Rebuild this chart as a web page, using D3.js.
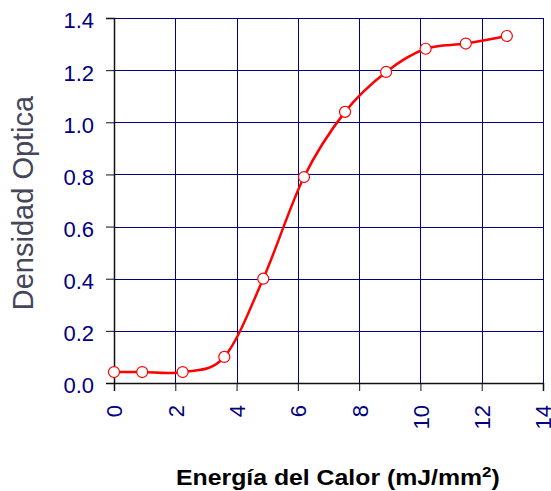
<!DOCTYPE html>
<html>
<head>
<meta charset="utf-8">
<script src="https://cdn.jsdelivr.net/npm/d3@7"></script>
<style>
  html, body { margin: 0; padding: 0; background: #fff; }
  svg { display: block; font-family: Arial, "Liberation Sans", sans-serif; }
</style>
</head>
<body>
<svg id="chart" width="551" height="491"></svg>
<script>
// energy (mJ/mm2) and optical density
const energia = [0, 0.92, 2.24, 3.6, 4.87, 6.2, 7.54, 8.88, 10.17, 11.48, 12.82];
const densidad = [0.042, 0.042, 0.042, 0.10, 0.40, 0.79, 1.04, 1.193, 1.282, 1.302, 1.331];
const xTicks = [0, 2, 4, 6, 8, 10, 12, 14];
const yTicks = [0, 0.2, 0.4, 0.6, 0.8, 1.0, 1.2, 1.4];

const NAVY = "#000080";

function drawChart() {
  const svg = d3.select("#chart");
  svg.selectAll("*").remove();

  const margin = { top: 18, left: 114, right: 8, bottom: 108 };
  const width = 551 - margin.left - margin.right;
  const height = 491 - margin.top - margin.bottom;

  const g = svg.append("g").attr("transform", `translate(${margin.left},${margin.top})`);

  const x = d3.scaleLinear().domain([0, 14]).range([0, width]);
  const y = d3.scaleLinear().domain([0, 1.4]).range([height, 0]);

  // grid
  g.append("g").selectAll("line")
    .data(xTicks.slice(1))
    .enter().append("line")
    .attr("x1", d => Math.round(x(d)) + 0.5).attr("x2", d => Math.round(x(d)) + 0.5)
    .attr("y1", 0).attr("y2", height)
    .attr("stroke", NAVY).attr("stroke-width", 1);

  g.append("g").selectAll("line")
    .data(yTicks.slice(1))
    .enter().append("line")
    .attr("x1", 0).attr("x2", width)
    .attr("y1", d => Math.round(y(d)) + 0.5).attr("y2", d => Math.round(y(d)) + 0.5)
    .attr("stroke", NAVY).attr("stroke-width", 1);

  // axes
  const xAxis = g.append("g")
    .attr("transform", `translate(0,${height})`)
    .call(d3.axisBottom(x).tickValues(xTicks).tickSize(8).tickFormat(d3.format("d")));
  xAxis.select(".domain").attr("stroke", "#111").attr("stroke-width", 1.5);
  xAxis.selectAll(".tick line").attr("stroke", "#111");
  xAxis.selectAll(".tick text")
    .attr("fill", NAVY)
    .style("font-size", "22px")
    .attr("text-anchor", "end")
    .attr("dy", "0.36em")
    .attr("transform", "translate(0,22) rotate(-90)")
    .attr("x", 0).attr("y", 0);

  const yAxis = g.append("g")
    .call(d3.axisLeft(y).tickValues(yTicks).tickSize(8).tickFormat(d3.format(".1f")));
  yAxis.select(".domain").attr("stroke", "#111").attr("stroke-width", 1.5);
  yAxis.selectAll(".tick line").attr("stroke", "#111");
  yAxis.selectAll(".tick text")
    .attr("fill", NAVY)
    .style("font-size", "22px")
    .attr("dy", "0.45em")
    .attr("x", -20);

  // curve (uniform catmull-rom, close to excel's smoothed line)
  const pts = energia.map((e, i) => [e, densidad[i]]);
  const line = d3.line()
    .x(d => x(d[0]))
    .y(d => y(d[1]))
    .curve(d3.curveCatmullRom.alpha(0));

  g.append("path")
    .datum(pts)
    .attr("d", line)
    .attr("fill", "none")
    .attr("stroke", "#ff0000")
    .attr("stroke-width", 2.5);

  g.selectAll("circle.pt")
    .data(pts)
    .enter().append("circle")
    .attr("class", "pt")
    .attr("cx", d => x(d[0]))
    .attr("cy", d => y(d[1]))
    .attr("r", 5.5)
    .attr("fill", "#fff")
    .attr("stroke", "#ff0000")
    .attr("stroke-width", 1.2);

  // axis titles
  svg.append("text")
    .attr("transform", "translate(33,203) rotate(-90)")
    .attr("text-anchor", "middle")
    .attr("fill", "#45465a")
    .style("font-size", "29px")
    .text("Densidad Optica");

  // x title is drawn wider than its font, so stretch it to the width seen
  const xl = svg.append("text")
    .attr("x", 0).attr("y", 0)
    .attr("fill", "#000")
    .style("font-size", "22px")
    .style("font-weight", "bold");
  xl.append("tspan").text("Energía del Calor (mJ/mm");
  xl.append("tspan").attr("dy", -8).style("font-size", "15px").text("2");
  xl.append("tspan").attr("dy", 8).text(")");
  const bb = xl.node().getBBox();
  const sx = 324 / bb.width;
  xl.attr("transform", `translate(${338 - (bb.x + bb.width / 2) * sx},485) scale(${sx},1)`);
}

drawChart();
</script>
</body>
</html>
